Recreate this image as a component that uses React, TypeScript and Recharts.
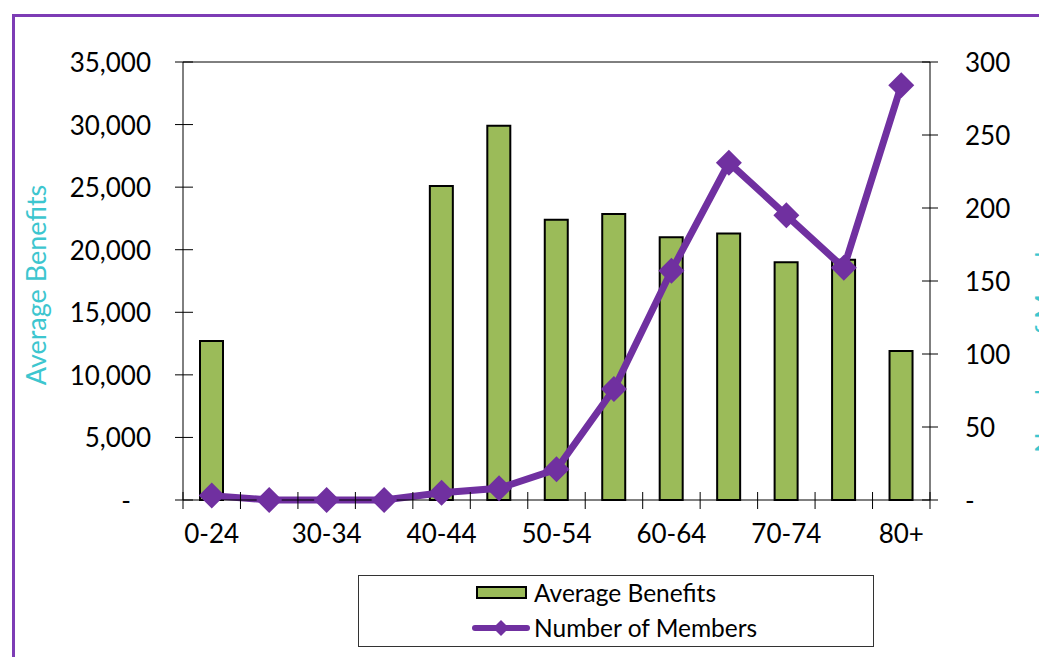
import React from 'react';
import {ComposedChart, Bar, Line, XAxis, YAxis, Legend, ReferenceLine} from 'recharts';

const ages = ['0-24', '25-29', '30-34', '35-39', '40-44', '45-49', '50-54', '55-59', '60-64', '65-69', '70-74', '75-79', '80+'];
const avgBenefits = [12700, 0, 0, 0, 25100, 29900, 22400, 22850, 21000, 21300, 19000, 19200, 11900];
const members = [3, 0, 0, 0, 5, 8, 21, 76, 157, 231, 195, 159, 284];
const leftTicks = [0, 5000, 10000, 15000, 20000, 25000, 30000, 35000];
const rightTicks = [0, 50, 100, 150, 200, 250, 300];

const data = ages.map((age, i) => ({age, benefits: avgBenefits[i], members: members[i]}));

const FONT = 'Lato, "Open Sans", sans-serif';
const PURPLE = '#7030A0';
const GREEN = '#9BBB59';
const CYAN = '#3DC6CF';
const HALF_BAND = 747 / ages.length / 2;

// ticks cross the axis line, like the excel original
const XTick = (props: any) => {
    const {x, y, payload, index} = props;
    const half = payload.offset || HALF_BAND;
    return (
        <g>
            <line x1={x - half} x2={x - half} y1={y - 8} y2={y + 9} stroke="#000"/>
            {index === ages.length - 1 && <line x1={x + half} x2={x + half} y1={y - 8} y2={y + 9} stroke="#000"/>}
            {index % 2 === 0 && (
                <text x={x} y={y + 43} textAnchor="middle" fontSize={26} fontFamily={FONT} fill="#000">
                    {payload.value}
                </text>
            )}
        </g>
    );
};

const LeftTick = (props: any) => {
    const {x, y, payload} = props;
    const label = payload.value === 0 ? '-\u00a0\u00a0\u00a0' : Number(payload.value).toLocaleString('en-US');
    return (
        <g>
            <line x1={x - 8} x2={x + 10} y1={y} y2={y} stroke="#000"/>
            <text x={x - 32} y={y} textAnchor="end" dominantBaseline="central" fontSize={26} fontFamily={FONT} fill="#000">
                {label}
            </text>
        </g>
    );
};

const RightTick = (props: any) => {
    const {x, y, payload} = props;
    return (
        <g>
            <line x1={x - 8} x2={x + 8} y1={y} y2={y} stroke="#000"/>
            <text x={x + 35} y={y} textAnchor="start" dominantBaseline="central" fontSize={26} fontFamily={FONT} fill="#000">
                {payload.value === 0 ? '-' : payload.value}
            </text>
        </g>
    );
};

const Diamond = (props: any) => {
    const {cx, cy} = props;
    if (cx == null || cy == null) return null;
    const r = 13;
    return <polygon points={`${cx},${cy - r} ${cx + r},${cy} ${cx},${cy + r} ${cx - r},${cy}`} fill={PURPLE}/>;
};

const LegendBox = () => (
    <div style={{
        width: 516, height: 72, border: '1px solid #333', boxSizing: 'border-box', background: '#fff',
        fontFamily: FONT, fontSize: 24.5, color: '#000', paddingLeft: 112, paddingTop: 0,
    }}>
        <div style={{display: 'flex', alignItems: 'center', height: 33}}>
            <svg width={60} height={18} style={{marginRight: 3}}>
                <rect x={6} y={3} width={49} height={11} fill={GREEN} stroke="#000" strokeWidth={2}/>
            </svg>
            <span>Average Benefits</span>
        </div>
        <div style={{display: 'flex', alignItems: 'center', height: 37}}>
            <svg width={60} height={18} style={{marginRight: 3}}>
                <line x1={4} x2={56} y1={9} y2={9} stroke={PURPLE} strokeWidth={6} strokeLinecap="round"/>
                <polygon points="30,1 38,9 30,17 22,9" fill={PURPLE}/>
            </svg>
            <span>Number of Members</span>
        </div>
    </div>
);

export default function App() {
    return (
        <div style={{position: 'fixed', left: 0, top: 0, width: 1039, height: 657, overflow: 'hidden', background: '#fff'}}>
            <div style={{
                position: 'absolute', left: 12, top: 14, width: 1100, height: 700,
                border: '3px solid #7D3CB5', boxSizing: 'border-box',
            }}/>
            <div style={{position: 'absolute', left: 0, top: 0}}>
                <ComposedChart
                    width={1039}
                    height={657}
                    data={data}
                    margin={{top: 62, right: 0, left: 23, bottom: 97}}
                >
                    <XAxis
                        dataKey="age"
                        xAxisId="x"
                        interval={0}
                        height={60}
                        tickLine={false}
                        tickSize={0}
                        tickMargin={0}
                        tick={<XTick/>}
                        axisLine={{stroke: '#000'}}
                    />
                    <YAxis
                        yAxisId="left"
                        width={160}
                        domain={[0, 35000]}
                        ticks={leftTicks}
                        tickSize={0}
                        tickMargin={0}
                        tickLine={false}
                        axisLine={{stroke: '#000'}}
                        tick={<LeftTick/>}
                        label={{
                            value: 'Average Benefits',
                            content: () => (
                                <text x={35} y={285} transform="rotate(-90 35 285)" textAnchor="middle"
                                      dominantBaseline="central" fill={CYAN} fontSize={27} fontFamily={FONT}>
                                    Average Benefits
                                </text>
                            ),
                        }}
                    />
                    <YAxis
                        yAxisId="right"
                        orientation="right"
                        width={109}
                        domain={[0, 300]}
                        ticks={rightTicks}
                        tickSize={0}
                        tickMargin={0}
                        tickLine={false}
                        axisLine={{stroke: '#000'}}
                        tick={<RightTick/>}
                        label={{
                            value: 'Number of Members',
                            content: () => (
                                <text x={1044} y={330} transform="rotate(-90 1044 330)" textAnchor="middle"
                                      dominantBaseline="central" fill={CYAN} fontSize={27} fontFamily={FONT}>
                                    Number of Members
                                </text>
                            ),
                        }}
                    />
                    <ReferenceLine xAxisId="x" yAxisId="left" y={35000} stroke="#000"/>
                    <Bar
                        xAxisId="x"
                        yAxisId="left"
                        dataKey="benefits"
                        name="Average Benefits"
                        fill={GREEN}
                        stroke="#000"
                        strokeWidth={2}
                        barSize={23}
                        isAnimationActive={false}
                    />
                    <Line
                        xAxisId="x"
                        yAxisId="right"
                        dataKey="members"
                        name="Number of Members"
                        stroke={PURPLE}
                        strokeWidth={7}
                        dot={<Diamond/>}
                        activeDot={false}
                        isAnimationActive={false}
                    />
                    <Legend
                        layout="vertical"
                        align="center"
                        verticalAlign="middle"
                        content={() => <LegendBox/>}
                        wrapperStyle={{left: 358, top: 575, width: 516, height: 72}}
                    />
                </ComposedChart>
            </div>
        </div>
    );
}
